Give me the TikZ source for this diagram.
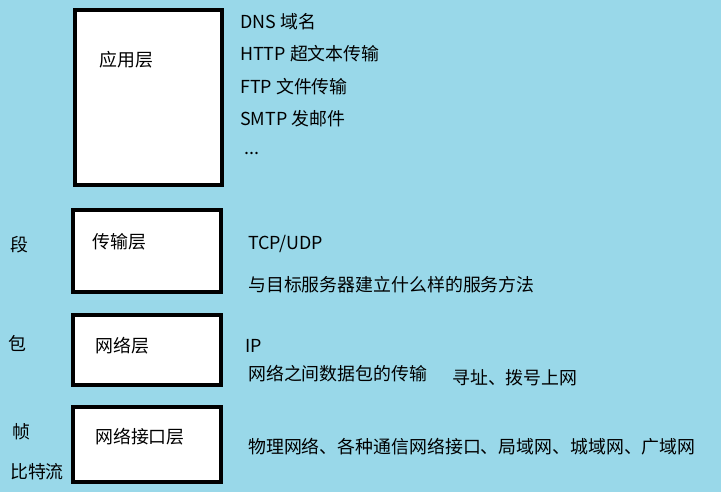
\documentclass[tikz,border=0pt]{standalone}
\usepackage{fontspec}
\setmainfont{Noto Sans CJK SC}
\definecolor{bgblue}{RGB}{153,216,233}
\tikzset{
  layer/.style={draw=black,line width=4pt,fill=white},
  txt/.style={anchor=west,inner sep=0pt,font=\fontsize{17.9}{20}\selectfont}
}
\begin{document}
\begin{tikzpicture}[x=1pt,y=-1pt]
  \fill[bgblue] (0,0) rectangle (721,492);
  \useasboundingbox (0,0) rectangle (721,492);
  % layer boxes
  \draw[layer] (75,10) rectangle (222,185);
  \draw[layer] (73,210) rectangle (221,292);
  \draw[layer] (73,315) rectangle (221,385);
  \draw[layer] (73,407) rectangle (221,482);
  % layer names
  \node[txt] (app) at (99,60) {应用层};
  \node[txt] (trans) at (92,242) {传输层};
  \node[txt] (net) at (95,346) {网络层};
  \node[txt] (link) at (95,437) {网络接口层};
  % units
  \node[txt] (seg) at (10,245) {段};
  \node[txt] (pkt) at (8,343) {包};
  \node[txt] (frm) at (12,432) {帧};
  \node[txt] (bit) at (10,472) {比特流};
  % protocols
  \node[txt] (dns) at (240,22) {DNS 域名};
  \node[txt] (http) at (240,54) {HTTP 超文本传输};
  \node[txt] (ftp) at (240,87) {FTP 文件传输};
  \node[txt] (smtp) at (240,119) {SMTP 发邮件};
  \node[txt] (etc) at (244,153) {...};
  \node[txt] (tcp) at (248,244) {TCP/UDP};
  \node[txt] (svc) at (248,285) {与目标服务器建立什么样的服务方法};
  \node[txt] (ip) at (245,346) {IP};
  \node[txt] (trx) at (248,374) {网络之间数据包的传输};
  \node[txt] (addr) at (452,378) {寻址、拨号上网};
  \node[txt] (phy) at (248,447) {物理网络、各种通信网络接口、局域网、城域网、广域网};
\end{tikzpicture}
\end{document}
